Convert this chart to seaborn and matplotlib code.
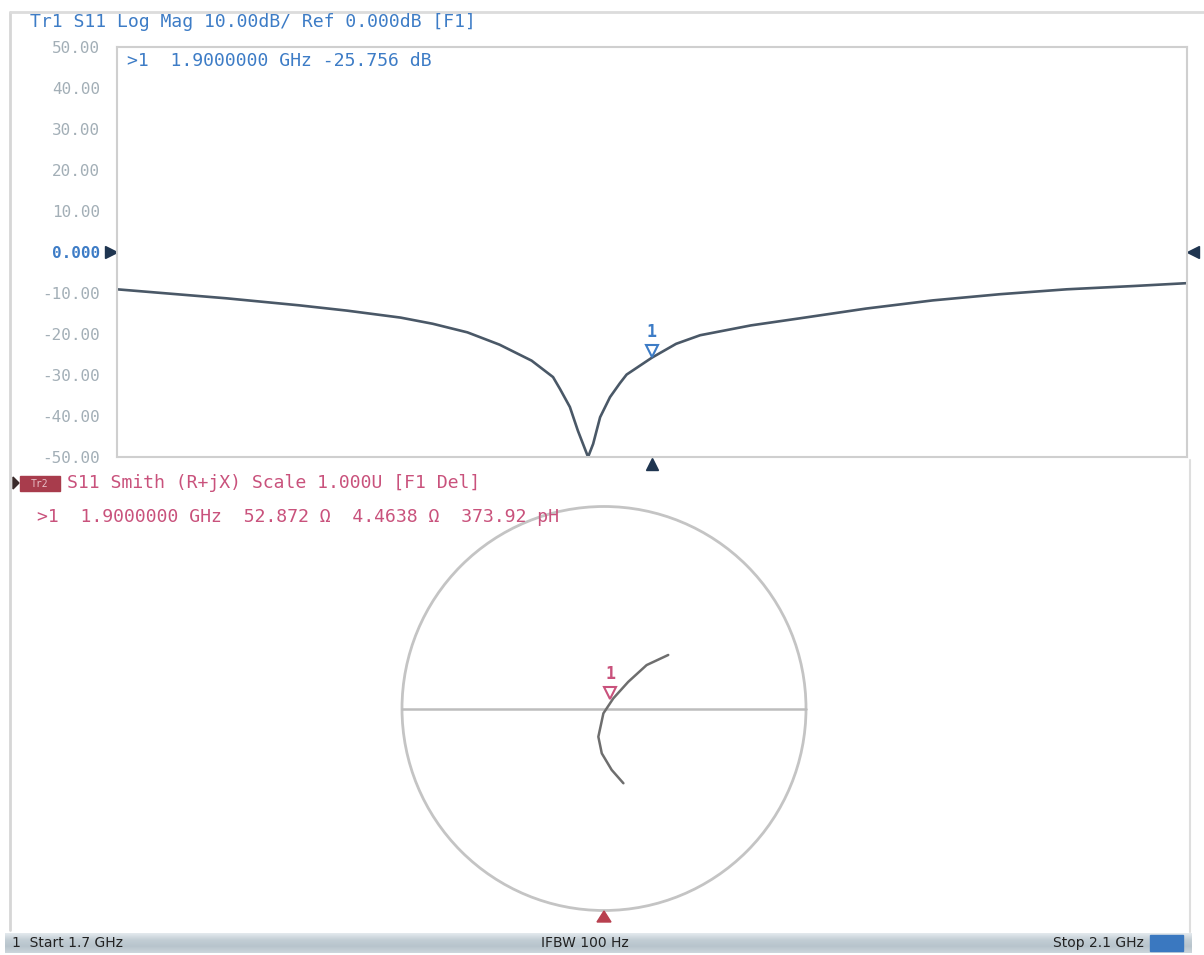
import numpy as np
import pandas as pd
import seaborn as sns
import matplotlib.pyplot as plt
from matplotlib.patches import Circle, Rectangle, Polygon
from matplotlib.colors import LinearSegmentedColormap
from matplotlib.transforms import blended_transform_factory, offset_copy

# trace 1: S11 log magnitude
freq_ghz = [1.700, 1.741, 1.768, 1.786, 1.806, 1.818, 1.831, 1.843, 1.855, 1.863,
            1.8656, 1.8693, 1.8723, 1.8742, 1.8761, 1.878, 1.8806, 1.8843, 1.888, 1.8905,
            1.900, 1.909, 1.918, 1.937, 1.955, 1.980, 2.005, 2.030, 2.055, 2.080,
            2.100]
s11_db = [-9.1, -11.3, -13.0, -14.3, -16.0, -17.5, -19.6, -22.6, -26.5, -30.5,
          -33.4, -37.8, -43.6, -46.8, -50.0, -46.8, -40.3, -35.4, -32.0, -29.9,
          -25.756, -22.4, -20.3, -17.9, -16.2, -13.8, -11.8, -10.3, -9.1, -8.3,
          -7.6]
y_ticks = [50, 40, 30, 20, 10, 0, -10, -20, -30, -40, -50]
start_ghz = 1.7
stop_ghz = 2.1
marker_freq = 1.9
marker_db = -25.756

# trace 2: S11 on the Smith chart (reflection coefficient)
smith_re = [0.318, 0.211, 0.120, 0.046, -0.003, -0.028, -0.011, 0.038, 0.096]
smith_im = [0.265, 0.215, 0.132, 0.050, -0.024, -0.140, -0.222, -0.304, -0.370]
marker_r_ohm = 52.872
marker_x_ohm = 4.4638
marker_l_ph = 373.92
z0 = 50.0

blue = '#3d7cc6'
pink = '#c9527c'
grey_txt = '#a3afb7'
trace_col = '#4a5867'

sns.set_theme(style='white')
plt.rcParams['font.family'] = ['DejaVu Sans Mono', 'DejaVu Sans']

W, H = 1204, 955
fig = plt.figure(figsize=(W / 100, H / 100), dpi=100)
fig.patch.set_facecolor('white')

def px(x0, y0, w, h):
    return [x0 / W, 1 - (y0 + h) / H, w / W, h / H]

# ---- top panel: log mag
ax = fig.add_axes(px(117, 47, 1070, 410))
ax.patch.set_alpha(0)
df = pd.DataFrame({'freq': freq_ghz, 's11': s11_db})
sns.lineplot(data=df, x='freq', y='s11', ax=ax, color=trace_col, lw=1.9)
ax.set_xlim(start_ghz, stop_ghz)
ax.set_ylim(-50, 50)
ax.set_xticks([])
ax.set_yticks(y_ticks)
ax.set_yticklabels(['0.000' if t == 0 else f'{t:.2f}' for t in y_ticks])
ax.tick_params(axis='y', length=0, pad=12, labelsize=11.5, labelcolor=grey_txt)
for lab, t in zip(ax.get_yticklabels(), y_ticks):
    if t == 0:
        lab.set_color(blue)
        lab.set_fontweight('bold')
ax.set_xlabel('')
ax.set_ylabel('')
for s in ax.spines.values():
    s.set_color('#cfcfcf')
    s.set_linewidth(1.5)

bt = blended_transform_factory(ax.transAxes, ax.transData)
ax.plot([-0.006], [0], marker='>', ms=9, color='#1f3550', transform=bt, clip_on=False)
ax.plot([1.006], [0], marker='<', ms=9, color='#1f3550', transform=bt, clip_on=False)
bx = blended_transform_factory(ax.transData, ax.transAxes)
ax.plot([marker_freq], [-0.016], marker='^', ms=9, color='#1f3550', transform=bx, clip_on=False)
ax.plot([marker_freq], [marker_db], marker='v', ms=9, mfc='none', mec=blue, mew=1.5,
        transform=offset_copy(ax.transData, fig=fig, y=7, units='dots'))
ax.annotate('1', (marker_freq, marker_db), xytext=(0, 26), textcoords='offset pixels',
            ha='center', va='center', color=blue, fontsize=12, fontweight='bold')

# ---- bottom panel: Smith chart
R = 1.0396
axs = fig.add_axes(px(394, 498.5, 420, 420))
axs.set_xlim(-R, R)
axs.set_ylim(-R, R)
axs.axis('off')
axs.add_patch(Circle((0, 0), 1, fill=False, ec='#c4c4c4', lw=2))
axs.plot([-1, 1], [0, 0], color='#bdbdbd', lw=1.8)
sm = pd.DataFrame({'re': smith_re, 'im': smith_im})
sns.lineplot(data=sm, x='re', y='im', sort=False, ax=axs, color='#6e6e6e', lw=1.8)
z = complex(marker_r_ohm, marker_x_ohm) / z0
g = (z - 1) / (z + 1)
axs.plot([g.real], [g.imag], marker='v', ms=9, mfc='none', mec=pink, mew=1.5,
         transform=offset_copy(axs.transData, fig=fig, y=7, units='dots'))
axs.annotate('1', (g.real, g.imag), xytext=(0, 26), textcoords='offset pixels',
             ha='center', va='center', color=pink, fontsize=12, fontweight='bold')
axs.set_xlabel('')
axs.set_ylabel('')

# ---- overlay: frame, annotations, status bar
ov = fig.add_axes([0, 0, 1, 1], zorder=10)
ov.patch.set_alpha(0)
ov.axis('off')

ov.plot([10, 10], [12, 930], color='#d6d6d6', lw=2)
ov.plot([10, 1204], [12, 12], color='#dcdcdc', lw=2)
ov.plot([1190, 1190], [460, 932], color='#dedede', lw=1.5)

ov.text(30, 22, 'Tr1 S11 Log Mag 10.00dB/ Ref 0.000dB [F1]', color=blue,
        fontsize=13.1, va='center', ha='left')
ov.text(127, 61, f'>1  {marker_freq:.7f} GHz {marker_db:.3f} dB', color=blue,
        fontsize=13.1, va='center', ha='left')

ov.add_patch(Polygon([[13, 477], [13, 489], [19, 483]], closed=True, color='#3a2a2a'))
ov.add_patch(Rectangle((20, 476), 40, 15, color='#a83c4c'))
ov.text(40, 483.5, 'Tr2', color='#e8c0c8', fontsize=7, ha='center', va='center')
ov.text(67, 483, 'S11 Smith (R+jX) Scale 1.000U [F1 Del]', color=pink,
        fontsize=13.1, va='center', ha='left')
ov.text(37, 517, f'>1  {marker_freq:.7f} GHz  {marker_r_ohm:.3f} \u03a9  '
        f'{marker_x_ohm:.4f} \u03a9  {marker_l_ph:.2f} pH', color=pink,
        fontsize=13.1, va='center', ha='left')
ov.add_patch(Polygon([[597, 922], [611, 922], [604, 911]], closed=True, color='#b8404f'))

cmap = LinearSegmentedColormap.from_list('bar', ['#e4eaee', '#c3ced5', '#b7c4cc', '#cdd6dc'])
grad = np.linspace(0, 1, 50).reshape(-1, 1)
ov.imshow(grad, extent=(5, 1192, 953, 933), aspect='auto', cmap=cmap, zorder=1)
ov.add_patch(Rectangle((1150, 935), 33, 16, color='#3a78c0', zorder=2))
ov.text(12, 943, '1  Start 1.7 GHz', family='DejaVu Sans', fontsize=10,
        color='#222222', va='center', ha='left', zorder=3)
ov.text(585, 943, 'IFBW 100 Hz', family='DejaVu Sans', fontsize=10,
        color='#222222', va='center', ha='center', zorder=3)
ov.text(1144, 943, 'Stop 2.1 GHz', family='DejaVu Sans', fontsize=10,
        color='#222222', va='center', ha='right', zorder=3)
ov.set_xlim(0, W)
ov.set_ylim(H, 0)

fig.savefig('out.png', dpi=100)
